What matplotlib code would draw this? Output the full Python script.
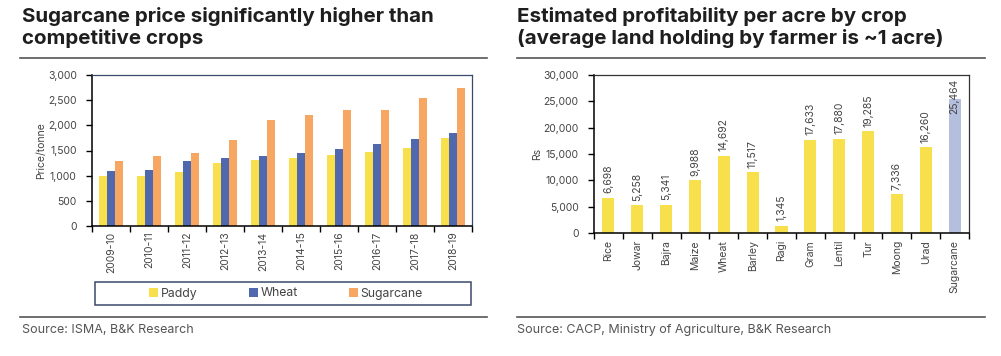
import numpy as np
import matplotlib.pyplot as plt
from matplotlib.ticker import FuncFormatter, FixedLocator
from matplotlib.patches import Rectangle

plt.rcParams['font.family'] = ['Inter', 'DejaVu Sans']

# left chart: price per tonne
seasons = ['2009-10', '2010-11', '2011-12', '2012-13', '2013-14',
           '2014-15', '2015-16', '2016-17', '2017-18', '2018-19']
paddy = [1000, 1000, 1080, 1250, 1310, 1360, 1410, 1470, 1550, 1750]
wheat = [1100, 1120, 1285, 1350, 1400, 1450, 1525, 1625, 1735, 1840]
sugarcane = [1300, 1400, 1450, 1700, 2100, 2200, 2300, 2300, 2550, 2750]

# right chart: profitability per acre
crops = ['Rice', 'Jowar', 'Bajra', 'Maize', 'Wheat', 'Barley', 'Ragi',
         'Gram', 'Lentil', 'Tur', 'Moong', 'Urad', 'Sugarcane']
profit = [6698, 5258, 5341, 9988, 14692, 11517, 1345,
          17633, 17880, 19285, 7336, 16260, 25464]

c_paddy = '#f7e04b'
c_wheat = '#5068ad'
c_sugar = '#f8a762'
c_sugar_r = '#b4bedd'
c_frame = '#3a4a6e'
c_text = '#444444'
c_title = '#1e1e1e'

W, H = 1001, 356
fig = plt.figure(figsize=(W / 100, H / 100), dpi=100)


def px_axes(x0, y0, x1, y1):
    return fig.add_axes([x0 / W, 1 - y1 / H, (x1 - x0) / W, (y1 - y0) / H])


def thousands(v, _):
    return f'{int(v):,}'


# ---------------- left chart ----------------
fig.text(22 / W, 1 - 7 / H, 'Sugarcane price significantly higher than\ncompetitive crops',
         fontsize=14.8, fontweight='bold', color=c_title, va='top', ha='left', linespacing=1.2)
fig.add_artist(plt.Line2D([20 / W, 487 / W], [1 - 58 / H] * 2, color='#555555', lw=1.2))
fig.add_artist(plt.Line2D([20 / W, 487 / W], [1 - 317 / H] * 2, color='#555555', lw=1.2))
fig.text(22 / W, 1 - 330 / H, 'Source: ISMA, B&K Research', fontsize=9, color='#555555',
         va='center', ha='left')

ax = px_axes(92, 75, 472, 226)
x = np.arange(len(seasons))
bw = 0.21
ax.bar(x - bw, paddy, bw, color=c_paddy, label='Paddy')
ax.bar(x, wheat, bw, color=c_wheat, label='Wheat')
ax.bar(x + bw, sugarcane, bw, color=c_sugar, label='Sugarcane')
ax.set_xlim(-0.5, len(seasons) - 0.5)
ax.set_ylim(0, 3000)
ax.set_yticks(np.arange(0, 3001, 500))
ax.yaxis.set_major_formatter(FuncFormatter(thousands))
ax.set_xticks(x)
ax.set_xticklabels(seasons, rotation=90)
ax.xaxis.set_minor_locator(FixedLocator(np.arange(-0.5, len(seasons), 1)))
ax.tick_params(axis='x', which='major', length=0, pad=4, labelsize=7.5, labelcolor=c_text)
ax.tick_params(axis='x', which='minor', length=4, width=1, direction='out')
ax.tick_params(axis='y', length=4, width=1, labelsize=7.5, labelcolor=c_text, pad=7)
ax.set_ylabel('Price/tonne', fontsize=7.5, color=c_text, labelpad=1)
for side in ['top', 'right']:
    ax.spines[side].set_color(c_frame)
    ax.spines[side].set_linewidth(0.9)
for side in ['left', 'bottom']:
    ax.spines[side].set_color('black')
    ax.spines[side].set_linewidth(1.1)

fig.add_artist(Rectangle((95 / W, 1 - 305 / H), (471 - 95) / W, (305 - 282) / H,
                         transform=fig.transFigure, fill=False, ec=c_frame, lw=1.1))
handles, labels = ax.get_legend_handles_labels()
fig.legend(handles, labels, loc='center', bbox_to_anchor=(286 / W, 1 - 293.5 / H),
           ncol=3, frameon=False, fontsize=8.8, handlelength=0.75, handleheight=0.75,
           handletextpad=0.2, columnspacing=4.2, labelcolor=c_text)

# ---------------- right chart ----------------
fig.text(517 / W, 1 - 7 / H, 'Estimated profitability per acre by crop\n(average land holding by farmer is ~1 acre)',
         fontsize=14.8, fontweight='bold', color=c_title, va='top', ha='left', linespacing=1.2)
fig.add_artist(plt.Line2D([517 / W, 985 / W], [1 - 58 / H] * 2, color='#555555', lw=1.2))
fig.add_artist(plt.Line2D([517 / W, 985 / W], [1 - 317 / H] * 2, color='#555555', lw=1.2))
fig.text(517 / W, 1 - 330 / H, 'Source: CACP, Ministry of Agriculture, B&K Research', fontsize=9,
         color='#555555', va='center', ha='left')

ax2 = px_axes(594, 75, 969, 233)
x2 = np.arange(len(crops))
colors = [c_paddy] * (len(crops) - 1) + [c_sugar_r]
ax2.bar(x2, profit, 0.42, color=colors)
ax2.set_xlim(-0.5, len(crops) - 0.5)
ax2.set_ylim(0, 30000)
ax2.set_yticks(np.arange(0, 30001, 5000))
ax2.yaxis.set_major_formatter(FuncFormatter(thousands))
ax2.set_xticks(x2)
ax2.set_xticklabels(crops, rotation=90)
ax2.xaxis.set_minor_locator(FixedLocator(np.arange(-0.5, len(crops), 1)))
ax2.tick_params(axis='x', which='major', length=0, pad=5, labelsize=7.5, labelcolor=c_text)
ax2.tick_params(axis='x', which='minor', length=4, width=1, direction='out')
ax2.tick_params(axis='y', length=4, width=1, labelsize=7.5, labelcolor=c_text, pad=7)
ax2.set_ylabel('Rs', fontsize=7.5, color=c_text, labelpad=1)
for side in ['top', 'right']:
    ax2.spines[side].set_color('#333333')
    ax2.spines[side].set_linewidth(0.9)
for side in ['left', 'bottom']:
    ax2.spines[side].set_color('black')
    ax2.spines[side].set_linewidth(1.1)

for xi, v in zip(x2, profit):
    lbl = f'{v:,}'
    if v > 24000:
        ax2.text(xi, 29200, lbl, rotation=90, ha='center', va='top', fontsize=7.5, color=c_text)
    else:
        ax2.text(xi, v + 900, lbl, rotation=90, ha='center', va='bottom', fontsize=7.5, color=c_text)

fig.savefig('out.png', dpi=100)
